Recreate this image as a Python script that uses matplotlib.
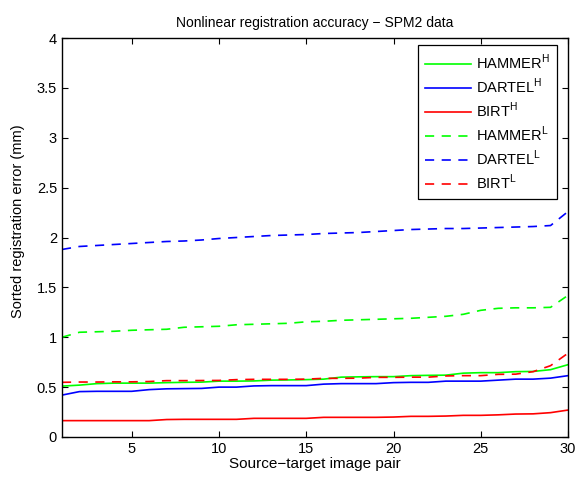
import matplotlib
matplotlib.use('Agg')
import matplotlib.pyplot as plt
import numpy as np

plt.rcParams['font.family'] = ['Liberation Sans', 'DejaVu Sans']
plt.rcParams['mathtext.fontset'] = 'custom'
plt.rcParams['mathtext.rm'] = 'Liberation Sans'

# source-target pair index
pairs = np.arange(1, 31)

# sorted errors, high resolution
hammer_h = [0.51, 0.52, 0.535, 0.54, 0.54, 0.54, 0.545, 0.548, 0.55, 0.56,
            0.56, 0.562, 0.57, 0.572, 0.575, 0.58, 0.6, 0.603, 0.605, 0.605,
            0.615, 0.618, 0.62, 0.64, 0.645, 0.645, 0.655, 0.657, 0.675, 0.725]
dartel_h = [0.42, 0.455, 0.458, 0.458, 0.458, 0.475, 0.483, 0.485, 0.487, 0.5,
            0.5, 0.512, 0.515, 0.515, 0.515, 0.53, 0.535, 0.535, 0.535, 0.545,
            0.548, 0.548, 0.56, 0.56, 0.56, 0.57, 0.58, 0.58, 0.59, 0.615]
birt_h = [0.164, 0.164, 0.164, 0.164, 0.164, 0.164, 0.175, 0.177, 0.177, 0.177,
          0.177, 0.187, 0.187, 0.187, 0.187, 0.197, 0.197, 0.197, 0.197, 0.2,
          0.207, 0.207, 0.21, 0.217, 0.217, 0.222, 0.23, 0.232, 0.244, 0.27]

# sorted errors, low resolution
hammer_l = [1.0, 1.05, 1.055, 1.06, 1.07, 1.075, 1.08, 1.1, 1.105, 1.11,
            1.125, 1.13, 1.135, 1.14, 1.155, 1.16, 1.17, 1.175, 1.18, 1.185,
            1.19, 1.2, 1.21, 1.23, 1.27, 1.29, 1.295, 1.295, 1.3, 1.42]
dartel_l = [1.88, 1.91, 1.92, 1.93, 1.94, 1.95, 1.96, 1.965, 1.975, 1.99,
            2.0, 2.01, 2.02, 2.025, 2.03, 2.04, 2.045, 2.05, 2.06, 2.07,
            2.08, 2.085, 2.09, 2.09, 2.095, 2.1, 2.105, 2.11, 2.12, 2.26]
birt_l = [0.548, 0.551, 0.551, 0.553, 0.553, 0.556, 0.565, 0.565, 0.566, 0.567,
          0.575, 0.578, 0.578, 0.578, 0.58, 0.588, 0.588, 0.59, 0.598, 0.598,
          0.6, 0.6, 0.612, 0.615, 0.615, 0.628, 0.63, 0.655, 0.715, 0.84]

series = [
    (hammer_h, '#00ff00', '-', 'HAMMER$^\\mathrm{H}$'),
    (dartel_h, '#0000ff', '-', 'DARTEL$^\\mathrm{H}$'),
    (birt_h, '#ff0000', '-', 'BIRT$^\\mathrm{H}$'),
    (hammer_l, '#00ff00', '--', 'HAMMER$^\\mathrm{L}$'),
    (dartel_l, '#0000ff', '--', 'DARTEL$^\\mathrm{L}$'),
    (birt_l, '#ff0000', '--', 'BIRT$^\\mathrm{L}$'),
]

fig = plt.figure(figsize=(5.79, 4.8), dpi=100)
ax = fig.add_axes([0.107, 0.0896, 0.874, 0.8312])

for vals, col, ls, lab in series:
    if ls == '--':
        ax.plot(pairs, vals, color=col, linestyle=ls, dashes=(5.5, 4.5), linewidth=1.2, label=lab)
    else:
        ax.plot(pairs, vals, color=col, linestyle=ls, linewidth=1.2, label=lab)

ax.set_xlim(1, 30)
ax.set_ylim(0, 4)
ax.set_xticks([5, 10, 15, 20, 25, 30])
ax.set_yticks(np.arange(0, 4.01, 0.5))
ax.set_yticklabels(['0', '0.5', '1', '1.5', '2', '2.5', '3', '3.5', '4'])
ax.tick_params(direction='in', top=True, right=True, length=4, labelsize=10.5, width=0.8)
for s in ax.spines.values():
    s.set_linewidth(1.0)

ax.set_title('Nonlinear registration accuracy \u2212 SPM2 data', fontsize=10, pad=8)
ax.set_xlabel('Source\u2212target image pair', fontsize=11, labelpad=1)
ax.set_ylabel('Sorted registration error (mm)', fontsize=10.5)
ax.yaxis.set_label_coords(-0.073, 0.54)

leg = ax.legend(loc='upper right', bbox_to_anchor=(0.978, 0.982), borderaxespad=0,
                fontsize=10.5, handlelength=3.15, handletextpad=0.35, labelspacing=0.32,
                borderpad=0.5, fancybox=False, framealpha=1, edgecolor='black')
leg.get_frame().set_linewidth(0.9)

plt.savefig('out.png', dpi=100)
